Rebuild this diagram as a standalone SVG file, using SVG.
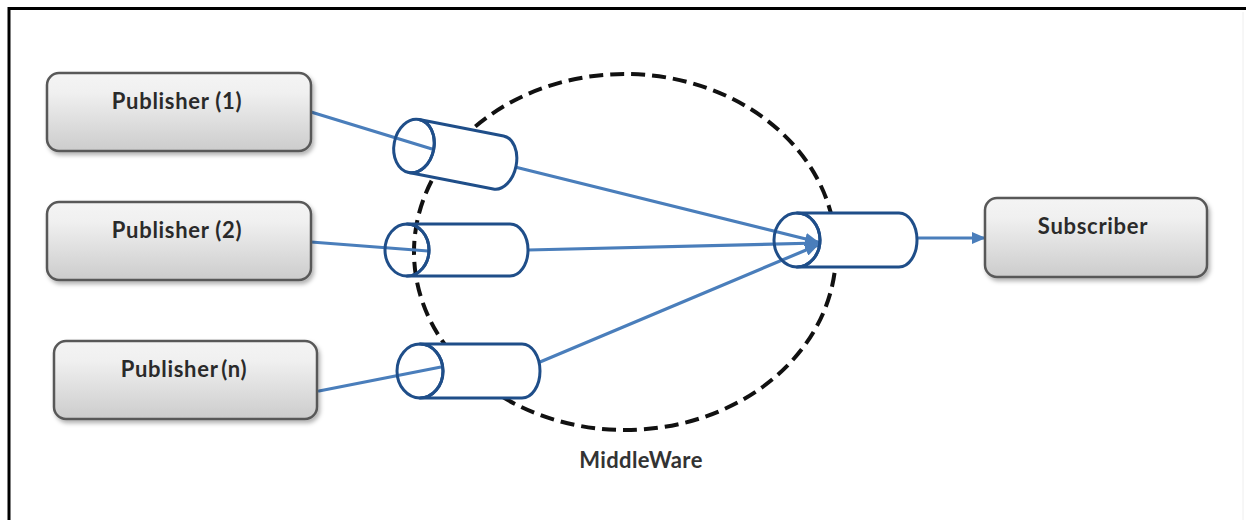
<svg xmlns="http://www.w3.org/2000/svg" width="1246" height="520" viewBox="0 0 1246 520">
  <style>
    .box { fill: url(#boxFill); stroke: #585858; stroke-width: 2.5; filter: url(#shadow); }
    .label { font-family: Lato, "Open Sans", "Liberation Sans", sans-serif; font-weight: bold; font-size: 22px; letter-spacing: 0.7px; fill: #2a2a2a; text-anchor: middle; }
    .wire { stroke: #4a7ebb; stroke-width: 3.2; fill: none; stroke-linecap: round; }
    .pipe { fill: #ffffff; stroke: #1f4e89; stroke-width: 3; stroke-linejoin: round; }
    .pipe-end { fill: none; stroke: #1f4e89; stroke-width: 3; }
    .cloud { fill: none; stroke: #111111; stroke-width: 4; stroke-dasharray: 14 7; }
  </style>
  <defs>
    <linearGradient id="boxFill" x1="0" y1="0" x2="0" y2="1">
      <stop offset="0" stop-color="#f4f4f4"/>
      <stop offset="0.25" stop-color="#f0f0f0"/>
      <stop offset="1" stop-color="#cccccc"/>
    </linearGradient>
    <filter id="shadow" x="-10%" y="-10%" width="130%" height="140%">
      <feDropShadow dx="2" dy="3" stdDeviation="2" flood-color="#000000" flood-opacity="0.3"/>
    </filter>
    <marker id="arrow" markerUnits="userSpaceOnUse" markerWidth="14" markerHeight="12" refX="13" refY="6" orient="auto">
      <path d="M0,0 L14,6 L0,12 Z" fill="#4a7ebb"/>
    </marker>
  </defs>

  <rect x="0" y="0" width="1246" height="520" fill="#ffffff"/>

  <!-- frame -->
  <path d="M9,520 V8.5 H1246" fill="none" stroke="#000000" stroke-width="3"/>
  <line x1="1243" y1="12" x2="1243" y2="520" stroke="#eeeeee" stroke-width="1"/>

  <!-- middleware boundary -->
  <g id="middleware">
    <ellipse class="cloud" cx="625" cy="252" rx="211" ry="178"/>
    <text class="label" x="641" y="468" style="letter-spacing:0.4px; fill:#333333">MiddleWare</text>
  </g>

  <!-- connectors -->
  <g id="connectors">
    <line class="wire" x1="311" y1="112" x2="432" y2="149"/>
    <line class="wire" x1="515" y1="167" x2="818" y2="242" marker-end="url(#arrow)"/>
    <line class="wire" x1="311" y1="242" x2="428" y2="251"/>
    <line class="wire" x1="528" y1="250" x2="818" y2="243" marker-end="url(#arrow)"/>
    <line class="wire" x1="319" y1="391" x2="441" y2="367"/>
    <line class="wire" x1="540" y1="362" x2="818" y2="245" marker-end="url(#arrow)"/>
    <line class="wire" x1="917" y1="238" x2="985" y2="238" marker-end="url(#arrow)"/>
  </g>

  <!-- queues -->
  <g id="queue1" transform="translate(414,146) rotate(11)">
    <path class="pipe" d="M0,-27 A20,27 0 0 1 0,27 L86,27 A18,27 0 0 0 86,-27 Z"/>
    <ellipse class="pipe-end" cx="0" cy="0" rx="20" ry="27"/>
  </g>
  <g id="queue2" transform="translate(407,250)">
    <path class="pipe" d="M0,-26 A22,26 0 0 1 0,26 L103,26 A18,26 0 0 0 103,-26 Z"/>
    <ellipse class="pipe-end" cx="0" cy="0" rx="22" ry="26"/>
  </g>
  <g id="queue3" transform="translate(420,371)">
    <path class="pipe" d="M0,-27 A23,27 0 0 1 0,27 L102,27 A18,27 0 0 0 102,-27 Z"/>
    <ellipse class="pipe-end" cx="0" cy="0" rx="23" ry="27"/>
  </g>
  <g id="hub" transform="translate(797,240)">
    <path class="pipe" d="M0,-27 A23,27 0 0 1 0,27 L102,27 A18,27 0 0 0 102,-27 Z"/>
    <ellipse class="pipe-end" cx="0" cy="0" rx="23" ry="27"/>
  </g>

  <!-- endpoints -->
  <g id="publisher1">
    <rect class="box" x="47" y="73" width="264" height="78" rx="12"/>
    <text class="label" x="177" y="109">Publisher (1)</text>
  </g>
  <g id="publisher2">
    <rect class="box" x="47" y="202" width="264" height="78" rx="12"/>
    <text class="label" x="177" y="238">Publisher (2)</text>
  </g>
  <g id="publisherN">
    <rect class="box" x="54" y="341" width="263" height="78" rx="12"/>
    <text class="label" x="184" y="377" style="word-spacing:-3px">Publisher (n)</text>
  </g>
  <g id="subscriber">
    <rect class="box" x="985" y="198" width="222" height="79" rx="12"/>
    <text class="label" x="1093" y="234">Subscriber</text>
  </g>
</svg>
